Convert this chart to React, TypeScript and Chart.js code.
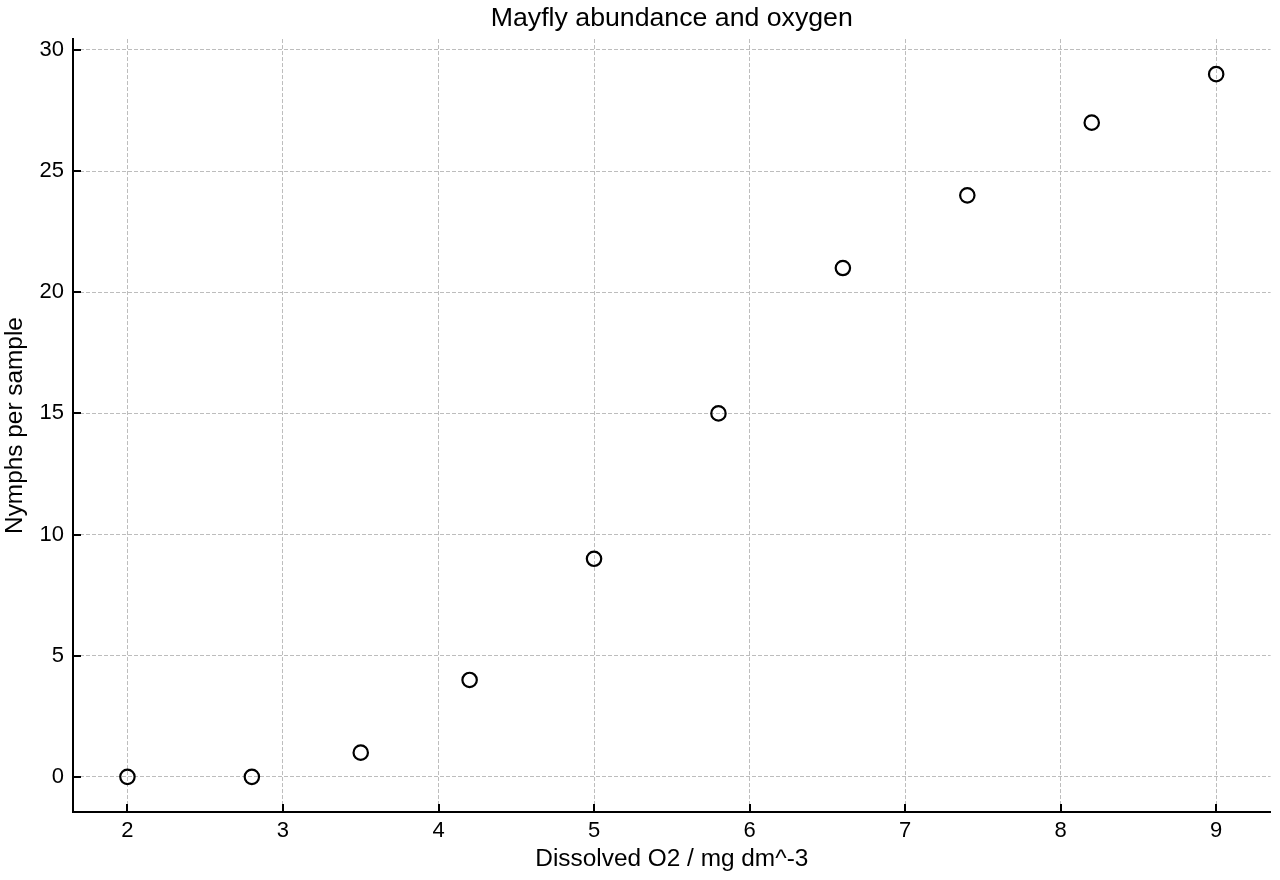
import React, { useEffect, useRef } from "react";
import { Chart, registerables } from "chart.js";

Chart.register(...registerables);

const oxygen = [2, 2.8, 3.5, 4.2, 5, 5.8, 6.6, 7.4, 8.2, 9];
const nymphs = [0, 0, 1, 4, 9, 15, 21, 24, 27, 29];
const xTicks = [2, 3, 4, 5, 6, 7, 8, 9];
const yTicks = [0, 5, 10, 15, 20, 25, 30];

const FONT = "'Liberation Sans', Arial, Helvetica, sans-serif";

const inwardTicks = {
  id: "inwardTicks",
  afterDraw(chart: any) {
    const { ctx, chartArea, scales } = chart;
    ctx.save();
    ctx.strokeStyle = "#000";
    ctx.lineWidth = 2;
    ctx.setLineDash([]);
    ctx.beginPath();
    const xs = scales.x;
    xs.ticks.forEach((t: any) => {
      const px = Math.round(xs.getPixelForValue(t.value));
      ctx.moveTo(px, chartArea.bottom);
      ctx.lineTo(px, chartArea.bottom - 8);
    });
    const ys = scales.y;
    ys.ticks.forEach((t: any) => {
      const py = Math.round(ys.getPixelForValue(t.value));
      ctx.moveTo(chartArea.left, py);
      ctx.lineTo(chartArea.left + 8, py);
    });
    ctx.stroke();
    ctx.restore();
  },
};

export default function App() {
  const ref = useRef<HTMLCanvasElement | null>(null);
  useEffect(() => {
    document.body.style.margin = "0";
    const chart = new Chart(ref.current as HTMLCanvasElement, {
      type: "scatter",
      data: {
        datasets: [
          {
            label: "Nymphs",
            data: oxygen.map((x, i) => ({ x, y: nymphs[i] })),
            pointRadius: 7.2,
            pointHoverRadius: 7.2,
            pointBorderWidth: 2.2,
            pointBorderColor: "#000",
            pointBackgroundColor: "rgba(0,0,0,0)",
            showLine: false,
          },
        ],
      },
      options: {
        animation: false,
        responsive: false,
        maintainAspectRatio: false,
        layout: { padding: { top: 0, right: 7, left: 0, bottom: 0 } },
        plugins: {
          legend: { display: false },
          tooltip: { enabled: false },
          title: {
            display: true,
            fullSize: false,
            text: "Mayfly abundance and oxygen",
            color: "#000",
            font: { family: FONT, size: 26.7, weight: "normal" },
            padding: { top: 2.5, bottom: 4.5 },
          },
        },
        scales: {
          x: {
            type: "linear",
            min: 1.65,
            max: 9.35,
            afterBuildTicks: (s: any) => {
              s.ticks = xTicks.map((v) => ({ value: v }));
            },
            afterFit: (s: any) => {
              s.height = 68;
            },
            ticks: {
              color: "#000",
              font: { family: FONT, size: 22 },
              padding: 6,
              maxRotation: 0,
            },
            grid: {
              color: "#bdbdbd",
              lineWidth: 1,
              drawTicks: false,
              tickLength: 0,
            },
            border: { display: true, color: "#000", width: 2, dash: [4, 2] },
            title: {
              display: true,
              text: "Dissolved O2 / mg dm^-3",
              color: "#000",
              font: { family: FONT, size: 24.4 },
              padding: { top: 0, bottom: 6 },
            },
          },
          y: {
            type: "linear",
            min: -1.45,
            max: 30.45,
            afterBuildTicks: (s: any) => {
              s.ticks = yTicks.map((v) => ({ value: v }));
            },
            afterFit: (s: any) => {
              s.width = 73;
            },
            ticks: {
              color: "#000",
              font: { family: FONT, size: 22 },
              padding: 9,
            },
            grid: {
              color: "#bdbdbd",
              lineWidth: 1,
              drawTicks: false,
              tickLength: 0,
            },
            border: { display: true, color: "#000", width: 2, dash: [4, 2] },
            title: {
              display: true,
              text: "Nymphs per sample",
              color: "#000",
              font: { family: FONT, size: 24.4 },
              padding: { top: 1, bottom: 0 },
            },
          },
        },
      },
      plugins: [inwardTicks],
    } as any);
    return () => chart.destroy();
  }, []);
  return (
    <div style={{ position: "absolute", left: 0, top: 0, width: 1280, height: 880, background: "#fff" }}>
      <canvas ref={ref} width={1280} height={880} style={{ width: 1280, height: 880 }} />
    </div>
  );
}
